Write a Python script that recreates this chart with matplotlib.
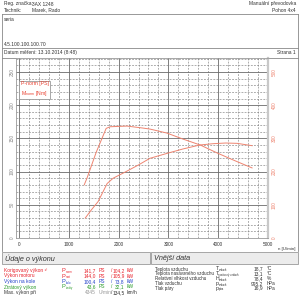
"""dyno report sheet - power and torque curves"""
import matplotlib
matplotlib.use("Agg")
import matplotlib.pyplot as plt
from matplotlib.patches import Rectangle
from matplotlib.ticker import MultipleLocator

plt.rcParams['font.family'] = ['Liberation Sans', 'DejaVu Sans']

# header data
head_left = [("Reg. značka:", "3AX 1248"), ("Technik:", "Marek, Rado")]
head_right = ["Manuální převodovka", "Pohon 4x4"]
note_top = "seria"
note_bottom = "4.5.100.100.100.70"
date_text = "Datum měření: 13.10.2014 (8:48)"
page_text = "Strana 1"

# curves
rpm_p = [1330, 1450, 1590, 1770, 1890, 2150, 2400, 2630, 3000, 3290, 3630, 3900, 4150, 4380, 4680]
power = [30, 42, 55, 82, 90, 100, 110, 120, 128, 134, 140, 142, 143, 142.5, 139]
rpm_m = [1310, 1370, 1550, 1750, 1830, 2000, 2170, 2490, 2630, 2970, 3290, 3640, 3980, 4300, 4680]
torque = [160, 182, 258, 330, 335, 336, 337, 331, 328, 316, 298, 280, 256, 235, 211]

x_ticks = [0, 1000, 2000, 3000, 4000, 5000]
left_ticks = [0, 50, 100, 150, 200, 250]
right_ticks = [0, 100, 200, 300, 400, 500]

# performance table
perf_labels = ["Korigovaný výkon ¹⁾", "Výkon motoru", "Výkon na kole", "Ztrátový výkon", "Max. výkon při"]
perf_sym = ["P", "P", "P", "P", ""]
perf_sub = ["norm", "mot", "kolo", "ztráty", ""]
perf_v1 = ["141,7", "144,0", "100,4", "43,6", "4345"]
perf_u1 = ["PS", "PS", "PS", "PS", "U/min"]
perf_v2 = ["104,2", "105,9", "73,8", "32,1", "134,5"]
perf_u2 = ["kW", "kW", "kW", "kW", "km/h"]
perf_col = ["#e8202a", "#e8202a", "#2040c8", "#2a9a2a", "#333333"]

# ambient table
env_labels = ["Teplota vzduchu", "Teplota nasávaného vzduchu", "Relativní vlhkost vzduchu",
              "Tlak vzduchu", "Tlak páry"]
env_sym = ["T", "T", "H", "p", "p"]
env_sub = ["vzduch", "nasávaný vzduch", "vzduch", "vzduch", "pára"]
env_val = ["18,7", "13,1", "78,4", "995,2", "16,9"]
env_unit = ["°C", "°C", "%", "hPa", "hPa"]

CURVE = "#ee8470"
TXT = "#333333"

fig = plt.figure(figsize=(3, 3), dpi=100)
bg = fig.add_axes([0, 0, 1, 1])
bg.set_xlim(0, 300)
bg.set_ylim(300, 0)
bg.axis("off")

fs = 3.5
# header
for i, (k, v) in enumerate(head_left):
    y = 4 + i * 6
    bg.text(4, y, k, fontsize=fs, color=TXT, va="center")
    bg.text(32, y, v, fontsize=fs, color=TXT, va="center")
for i, t in enumerate(head_right):
    bg.text(296, 4 + i * 6, t, fontsize=fs, color=TXT, va="center", ha="right")

lc = "#888888"
bg.plot([2, 298], [14, 14], color=lc, lw=0.6)
bg.plot([2, 298], [47.5, 47.5], color=lc, lw=0.6)
bg.plot([2, 298], [57.5, 57.5], color=lc, lw=0.6)
bg.plot([2, 2], [14, 251], color=lc, lw=0.6)
bg.plot([298, 298], [14, 251], color=lc, lw=0.6)
bg.text(4, 19.5, note_top, fontsize=fs, color=TXT, va="center")
bg.text(4, 44, note_bottom, fontsize=fs, color=TXT, va="center")
bg.text(4, 52.5, date_text, fontsize=fs, color=TXT, va="center")
bg.text(296, 52.5, page_text, fontsize=fs, color=TXT, va="center", ha="right")
bg.text(295, 249, "n [U/min]", fontsize=3.2, color=TXT, va="center", ha="right")

# bottom section headers
for x0, x1, title in [(2, 149.5, "Údaje o výkonu"), (150.5, 298, "Vnější data")]:
    bg.add_patch(Rectangle((x0, 252), x1 - x0, 12, facecolor="#ececec",
                           edgecolor="#999999", lw=0.6))
    bg.text(x0 + 3, 258.5, title, fontsize=5.2, style="italic", color=TXT, va="center")

rows_y = [270.5, 276, 281.5, 287, 292.5]
for i, y in enumerate(rows_y):
    c = perf_col[i]
    bg.text(4, y, perf_labels[i], fontsize=fs, color=c, va="center")
    bg.text(62, y, perf_sym[i], fontsize=fs + 0.6, color=c, va="center")
    bg.text(65.5, y + 1.3, perf_sub[i], fontsize=2.1, color=c, va="center")
    bg.text(96, y, perf_v1[i], fontsize=fs, color="#999999" if i == 4 else c,
            va="center", ha="right")
    bg.text(98.5, y, perf_u1[i], fontsize=fs, color="#999999" if i == 4 else c, va="center")
    bg.text(111, y, "/", fontsize=fs, color=c, va="center")
    bg.text(124.5, y, perf_v2[i], fontsize=fs, color=c, va="center", ha="right")
    bg.text(127, y, perf_u2[i], fontsize=fs, color=c, va="center")

env_y = [269, 273.8, 278.6, 283.4, 288.2]
for i, y in enumerate(env_y):
    bg.text(155, y, env_labels[i], fontsize=3.25, color=TXT, va="center")
    bg.text(215.5, y, env_sym[i], fontsize=fs + 0.3, color=TXT, va="center")
    bg.text(218.5, y + 1.1, env_sub[i], fontsize=1.9, color=TXT, va="center")
    bg.text(263.5, y, env_val[i], fontsize=fs, color=TXT, va="center", ha="right")
    bg.text(267, y, env_unit[i], fontsize=fs, color=TXT, va="center")

# chart
ax = fig.add_axes([16 / 300, 1 - 238 / 300, 252 / 300, 180 / 300])
ax.set_xlim(-60, 5000)
ax.set_ylim(0, 271)
ax.xaxis.set_major_locator(MultipleLocator(1000))
ax.xaxis.set_minor_locator(MultipleLocator(200))
ax.yaxis.set_major_locator(MultipleLocator(50))
ax.yaxis.set_minor_locator(MultipleLocator(10))
ax.grid(which="major", color="#6a6a6a", lw=0.6, ls="-")
ax.grid(which="minor", color="#808080", lw=0.45, ls=(0, (3, 2)))
ax.set_axisbelow(True)
for s in ax.spines.values():
    s.set_color("#999999")
    s.set_linewidth(0.6)
ax.spines["right"].set_color("#c8c8c8")
ax.spines["right"].set_linewidth(1.6)
ax.tick_params(which="both", length=0)
ax.set_xticks(x_ticks)
ax.set_xticklabels([str(v) for v in x_ticks], fontsize=3.4, color=TXT)
ax.tick_params(axis="x", pad=3)
ax.set_yticks(left_ticks)
ax.set_yticklabels([str(v) for v in left_ticks], fontsize=3.4, color="#888888",
                   rotation=90, va="center")
ax.tick_params(axis="y", pad=1)

ax.plot(rpm_p, power, color=CURVE, lw=0.7)

ax2 = ax.twinx()
ax2.set_ylim(0, 542)
ax2.set_yticks(right_ticks)
ax2.set_yticklabels([str(v) for v in right_ticks], fontsize=3.4, color=CURVE,
                    rotation=90, va="center")
ax2.tick_params(length=0, pad=2.5)
for s in ax2.spines.values():
    s.set_visible(False)
ax2.plot(rpm_m, torque, color=CURVE, lw=0.7)

ax.text(0.018, 0.875, "P-norm [PS]\nM$_{\\mathregular{norm}}$ [Nm]", transform=ax.transAxes,
        fontsize=3.7, color="#e84030", va="top", ha="left", linespacing=1.5,
        bbox=dict(boxstyle="square,pad=0.35", facecolor="white", edgecolor="#999999", lw=0.6))

fig.savefig("out.png", dpi=100)
